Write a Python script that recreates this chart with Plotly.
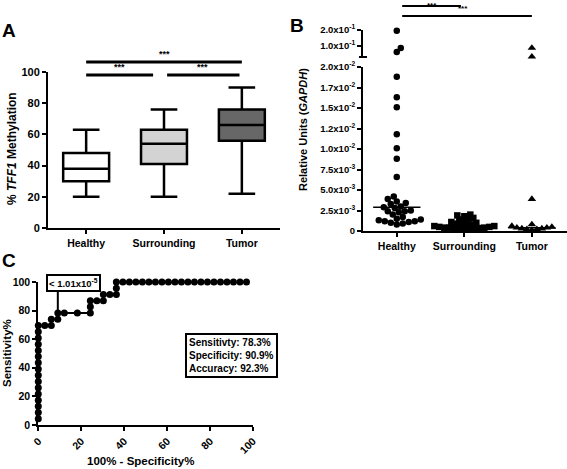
import numpy as np
import plotly.graph_objects as go

W, H = 567, 469
FONT = "Liberation Sans, Arial, Helvetica, sans-serif"

groups = ["Healthy", "Surrounding", "Tumor"]

# ---------------- Panel A: % TFF1 methylation (box & whiskers) ----------------
a_whisker_low = [20, 20, 22]
a_q1 = [30, 41, 56]
a_median = [38, 54, 66]
a_q3 = [48, 63, 76]
a_whisker_high = [63, 76, 90]
a_fill = ["#ffffff", "#d3d3d3", "#676767"]
a_yticks = [0, 20, 40, 60, 80, 100]

# ---------------- Panel B: relative units (GAPDH) ----------------
b_healthy = [0.195, 0.087, 0.062, 0.0188, 0.0163, 0.0151, 0.0118, 0.0101, 0.0088, 0.0066,
             0.0042, 0.0039, 0.0036, 0.0034, 0.0033, 0.0030, 0.0029, 0.0028, 0.0025, 0.0024,
             0.0024, 0.0023, 0.0020, 0.0017, 0.0015, 0.0014, 0.0013, 0.0012, 0.0012, 0.0011,
             0.0010, 0.0009, 0.0008]
b_surrounding = [0.0020, 0.0019, 0.0018, 0.0016, 0.0015, 0.0014, 0.0012, 0.0011, 0.0010, 0.0009,
                 0.0008, 0.0008, 0.0007, 0.0006, 0.0006, 0.0005, 0.0005, 0.0004, 0.0004, 0.0004,
                 0.0003, 0.0003, 0.0003, 0.0002, 0.0002, 0.0002]
b_tumor = [0.087, 0.032, 0.0039, 0.0008, 0.0006, 0.0005, 0.0004, 0.0004, 0.0003, 0.0003,
           0.0002, 0.0002, 0.0001]
b_symbols = ["circle", "square", "triangle-up"]
b_low_ticks = [0, 0.0025, 0.005, 0.0075, 0.01, 0.0125, 0.015, 0.0175, 0.02]
b_low_ticktext = ["0", "2.5x10<sup>-3</sup>", "5.0x10<sup>-3</sup>", "7.5x10<sup>-3</sup>",
                  "1.0x10<sup>-2</sup>", "1.2x10<sup>-2</sup>", "1.5x10<sup>-2</sup>",
                  "1.7x10<sup>-2</sup>", "2.0x10<sup>-2</sup>"]
b_high_ticks = [0.1, 0.2]
b_high_ticktext = ["1.0x10<sup>-1</sup>", "2.0x10<sup>-1</sup>"]
B_BREAK = 0.025

# ---------------- Panel C: ROC curve ----------------
roc_fpr = [0, 0, 0, 0, 0, 0, 0, 0, 0, 0, 0, 0, 0, 0, 0, 0,
           3.03, 6.06, 6.06, 9.09, 9.09, 12.12, 18.18, 24.24, 24.24, 24.24, 27.27, 30.30,
           30.30, 33.33, 36.36, 36.36, 36.36,
           39.39, 42.42, 45.45, 48.48, 51.52, 54.55, 57.58, 60.61, 63.64, 66.67,
           69.70, 72.73, 75.76, 78.79, 81.82, 84.85, 87.88, 90.91, 93.94, 96.97]
roc_sens = [4.35, 8.70, 13.04, 17.39, 21.74, 26.09, 30.43, 34.78, 39.13, 43.48, 47.83,
            52.17, 56.52, 60.87, 65.22, 69.57,
            69.57, 69.57, 73.91, 73.91, 78.26, 78.26, 78.26, 78.26, 82.61, 86.96, 86.96,
            86.96, 91.30, 91.30, 91.30, 95.65, 100,
            100, 100, 100, 100, 100, 100, 100, 100, 100, 100,
            100, 100, 100, 100, 100, 100, 100, 100, 100, 100]
roc_pvalue_text = "< 1.01x10<sup>-5</sup>"
roc_stats = ["Sensitivty: 78.3%", "Specificity: 90.9%", "Accuracy: 92.3%"]
roc_pvalue_point = roc_sens.index(78.26)  # first point at 78.26 (9.09, 78.26)


def hdom(l, r):
    return [l / W, r / W]


def vdom(top, bottom):
    return [1 - bottom / H, 1 - top / H]


def py(pix):
    return 1 - pix / H


XA_DOM, YA_DOM, XA_RANGE = hdom(48, 280), vdom(72, 228), [-0.49, 2.49]
XB_DOM, XB_RANGE = hdom(363, 567), [-0.5, 2.52]
YB_LOW_DOM, YB_LOW_RANGE = vdom(67, 231), [0, 0.02]
YB_HIGH_DOM, YB_HIGH_RANGE = vdom(30, 57), [0.03, 0.2]
XC_DOM, YC_DOM = hdom(38.3, 253), vdom(282, 425)


def b_px(v):
    r, d = (YB_HIGH_RANGE, YB_HIGH_DOM) if v > B_BREAK else (YB_LOW_RANGE, YB_LOW_DOM)
    frac = (v - r[0]) / (r[1] - r[0])
    return H * (1 - (d[0] + frac * (d[1] - d[0])))


PX_PER_CAT = W * (XB_DOM[1] - XB_DOM[0]) / (XB_RANGE[1] - XB_RANGE[0])


def swarm(vals, diam, step=1.0):
    ys = [b_px(v) for v in vals]
    order = np.argsort(ys)[::-1]
    placed, offs = [], np.zeros(len(vals))
    for n, i in enumerate(order):
        k = 0
        chosen = None
        while chosen is None:
            cands = [0.0] if k == 0 else ([k * step, -k * step] if n % 2 else [-k * step, k * step])
            for c in cands:
                if all((c - px) ** 2 + (ys[i] - pyy) ** 2 >= diam ** 2 for px, pyy in placed):
                    chosen = c
                    break
            k += 1
        placed.append((chosen, ys[i]))
        offs[i] = chosen / PX_PER_CAT
    return offs


fig = go.Figure()

# Panel A boxes
for i, g in enumerate(groups):
    fig.add_trace(go.Box(
        x=[i], q1=[a_q1[i]], median=[a_median[i]], q3=[a_q3[i]],
        lowerfence=[a_whisker_low[i]], upperfence=[a_whisker_high[i]],
        fillcolor=a_fill[i], line=dict(color="black", width=2.5),
        width=0.59, whiskerwidth=0.58, boxpoints=False, name=g,
        xaxis="x", yaxis="y", hoverinfo="skip"))

# Panel B scatter
b_sets = [b_healthy, b_surrounding, b_tumor]
b_sizes = [6.5, 6.5, 7.5]
b_diams = [5.6, 4.4, 4.6]
for i, vals in enumerate(b_sets):
    vals = np.array(vals)
    offs = swarm(list(vals), b_diams[i])
    low = vals <= B_BREAK
    for mask, yax in [(low, "y2"), (~low, "y3")]:
        if mask.any():
            fig.add_trace(go.Scatter(
                x=i + offs[mask], y=vals[mask], mode="markers", xaxis="x2", yaxis=yax,
                marker=dict(symbol=b_symbols[i], size=b_sizes[i], color="black"),
                cliponaxis=False, hoverinfo="skip"))
    med = float(np.median(vals))
    fig.add_trace(go.Scatter(
        x=[i - 0.35, i + 0.35], y=[med, med], mode="lines", xaxis="x2", yaxis="y2",
        line=dict(color="black", width=1.6), hoverinfo="skip"))

# Panel C ROC
fig.add_trace(go.Scatter(
    x=roc_fpr, y=roc_sens, mode="lines+markers", xaxis="x3", yaxis="y4",
    line=dict(color="black", width=2), marker=dict(color="black", size=7),
    cliponaxis=False, hoverinfo="skip"))

axis_style = dict(showline=True, linecolor="black", linewidth=2, ticks="outside",
                  ticklen=4, tickwidth=2, tickcolor="black", showgrid=False,
                  zeroline=False, fixedrange=True, automargin=False)

fig.update_layout(
    template="none",
    width=W, height=H, margin=dict(l=0, r=0, t=0, b=0, pad=0, autoexpand=False),
    paper_bgcolor="white", plot_bgcolor="rgba(0,0,0,0)", showlegend=False,
    font=dict(family=FONT, color="black", weight="bold"),
    xaxis=dict(domain=XA_DOM, range=XA_RANGE, anchor="y", tickvals=[0, 1, 2],
               ticktext=groups, tickfont=dict(size=10.5, weight="bold"), **axis_style),
    yaxis=dict(domain=YA_DOM, range=[0, 100], anchor="x", tickvals=a_yticks,
               tickfont=dict(size=11, weight="bold"), **axis_style),
    xaxis2=dict(domain=XB_DOM, range=XB_RANGE, anchor="y2", tickvals=[0, 1, 2],
                ticktext=groups, tickfont=dict(size=10.5, weight="bold"), **axis_style),
    yaxis2=dict(domain=YB_LOW_DOM, range=YB_LOW_RANGE, anchor="x2", tickvals=b_low_ticks,
                ticktext=b_low_ticktext, tickfont=dict(size=9.5, weight="bold"), **axis_style),
    yaxis3=dict(domain=YB_HIGH_DOM, range=YB_HIGH_RANGE, anchor="x2", tickvals=b_high_ticks,
                ticktext=b_high_ticktext, tickfont=dict(size=9.5, weight="bold"), **axis_style),
    xaxis3=dict(domain=XC_DOM, range=[0, 100], anchor="y4", tickvals=[0, 20, 40, 60, 80, 100],
                tickangle=-45, tickfont=dict(size=10.5, weight="bold"), **axis_style),
    yaxis4=dict(domain=YC_DOM, range=[0, 100], anchor="x3", tickvals=[0, 20, 40, 60, 80, 100],
                tickfont=dict(size=10.5, weight="bold"), **axis_style),
)

shapes = []
# Panel A significance bars
for x0, x1, pix in [(0, 0.86, 75), (1.04, 1.97, 75), (0, 2, 62)]:
    shapes.append(dict(type="line", xref="x", yref="paper", x0=x0, x1=x1, y0=py(pix), y1=py(pix),
                       line=dict(color="black", width=3)))
# Panel B significance bars
for x0, x1, pix in [(0.08, 0.95, 6), (0.08, 2.0, 16)]:
    shapes.append(dict(type="line", xref="x2", yref="paper", x0=x0, x1=x1, y0=py(pix), y1=py(pix),
                       line=dict(color="black", width=2)))
# Panel B axis break mark
shapes.append(dict(type="line", xref="paper", yref="paper", x0=359 / W, x1=367 / W,
                   y0=py(57), y1=py(57), line=dict(color="black", width=2)))
# Panel C connector from p-value box to curve
k = roc_pvalue_point
shapes.append(dict(type="line", xref="x3", yref="y4", x0=roc_fpr[k], x1=roc_fpr[k],
                   y0=roc_sens[k], y1=94, line=dict(color="black", width=2)))
fig.update_layout(shapes=shapes)

ann = []
bold = dict(family=FONT, color="black", weight="bold")
C = dict(xanchor="center", yanchor="middle", showarrow=False, xref="paper", yref="paper")
# panel letters
for t, xp, yp in [("A", 9, 30), ("B", 297, 26), ("C", 9, 260)]:
    ann.append(dict(text=t, x=xp / W, y=py(yp), font=dict(size=19, **bold), **C))
# stars A
for xs, pix in [(0.43, 75), (1.5, 75), (1.0, 62)]:
    ann.append(dict(text="***", x=xs, y=py(pix - 1), xref="x", yref="paper", showarrow=False,
                    font=dict(size=9, **bold), xanchor="center", yanchor="bottom"))
# stars B
ann.append(dict(text="***", x=0.52, y=1, xref="x2", yref="paper", showarrow=False,
                font=dict(size=8, **bold), xanchor="center", yanchor="top", borderpad=0))
ann.append(dict(text="***", x=0.98, y=py(15), xref="x2", yref="paper", showarrow=False,
                font=dict(size=8, **bold), xanchor="center", yanchor="bottom"))
# axis titles
ann.append(dict(text="% <i>TFF1</i> Methylation", x=12 / W, y=py(149), textangle=-90,
                font=dict(size=12, **bold), **C))
ann.append(dict(text="Relative Units (<i>GAPDH</i>)", x=303 / W, y=py(130), textangle=-90,
                font=dict(size=11, **bold), **C))
ann.append(dict(text="Sensitivity%", x=7 / W, y=py(353), textangle=-90,
                font=dict(size=11.5, **bold), **C))
ann.append(dict(text="100% - Specificity%", x=140 / W, y=py(461), font=dict(size=11.5, **bold), **C))
# ROC boxes
ann.append(dict(text=roc_pvalue_text, x=16.4, y=99.3, xref="x3", yref="y4", showarrow=False,
                xanchor="center", yanchor="middle",
                font=dict(size=9.5, **bold), bordercolor="black", borderwidth=2, borderpad=1,
                bgcolor="white"))
ann.append(dict(text="<br>".join(roc_stats), x=231 / W, y=py(355), align="left",
                font=dict(size=10, **bold), bordercolor="black",
                borderwidth=2, borderpad=2, bgcolor="white", **C))
fig.update_layout(annotations=ann)

fig.write_html("out.html", config={"displayModeBar": False},
               post_script="document.body.style.margin='0px';"
                           "document.body.style.overflow='hidden';")
